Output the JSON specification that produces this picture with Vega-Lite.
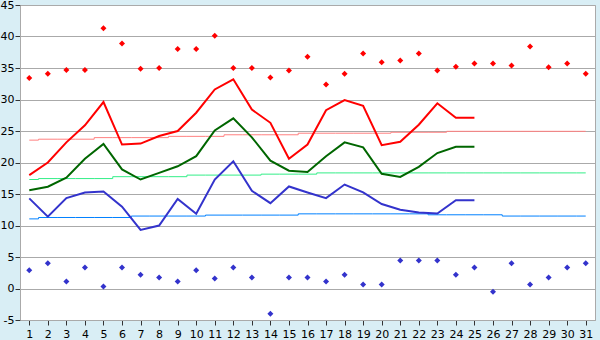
{
  "$schema": "https://vega.github.io/schema/vega-lite/v6.json",
  "width": 575,
  "height": 315,
  "autosize": {"type": "none"},
  "padding": {"left": 20, "top": 5, "right": 5, "bottom": 20},
  "background": "#d9eef5",
  "view": {"fill": "#ffffff", "stroke": "#aaaaaa", "strokeWidth": 1},
  "config": {
    "axis": {
      "labelFont": "DejaVu Sans",
      "labelFontSize": 11,
      "labelColor": "#000000",
      "tickColor": "#333333",
      "tickSize": 5,
      "domainColor": "#aaaaaa",
      "gridColor": "#aaaaaa",
      "gridOpacity": 1,
      "labelOverlap": false,
      "title": null
    }
  },
  "data": {
    "values": [
      {"day": 1, "max": 18.0, "mean": 15.6, "min": 14.3, "nmax": 23.55, "nmean": 17.3, "nmin": 11.05, "rhi": 33.4, "rlo": 2.9},
      {"day": 2, "max": 20.0, "mean": 16.15, "min": 11.4, "nmax": 23.7, "nmean": 17.45, "nmin": 11.27, "rhi": 34.1, "rlo": 4.0},
      {"day": 3, "max": 23.2, "mean": 17.6, "min": 14.35, "nmax": 23.7, "nmean": 17.45, "nmin": 11.27, "rhi": 34.7, "rlo": 1.1},
      {"day": 4, "max": 25.9, "mean": 20.6, "min": 15.25, "nmax": 23.7, "nmean": 17.45, "nmin": 11.27, "rhi": 34.7, "rlo": 3.35},
      {"day": 5, "max": 29.6, "mean": 22.95, "min": 15.4, "nmax": 23.95, "nmean": 17.45, "nmin": 11.27, "rhi": 41.3, "rlo": 0.3},
      {"day": 6, "max": 22.85, "mean": 18.9, "min": 13.0, "nmax": 23.95, "nmean": 17.75, "nmin": 11.27, "rhi": 38.9, "rlo": 3.35},
      {"day": 7, "max": 23.0, "mean": 17.3, "min": 9.3, "nmax": 23.95, "nmean": 17.75, "nmin": 11.5, "rhi": 34.9, "rlo": 2.2},
      {"day": 8, "max": 24.2, "mean": 18.35, "min": 10.0, "nmax": 23.95, "nmean": 17.75, "nmin": 11.5, "rhi": 35.0, "rlo": 1.75},
      {"day": 9, "max": 25.0, "mean": 19.4, "min": 14.2, "nmax": 24.15, "nmean": 17.75, "nmin": 11.5, "rhi": 38.0, "rlo": 1.1},
      {"day": 10, "max": 27.9, "mean": 21.0, "min": 11.85, "nmax": 24.15, "nmean": 18.0, "nmin": 11.5, "rhi": 38.0, "rlo": 2.9},
      {"day": 11, "max": 31.6, "mean": 25.1, "min": 17.3, "nmax": 24.15, "nmean": 18.0, "nmin": 11.65, "rhi": 40.1, "rlo": 1.6},
      {"day": 12, "max": 33.2, "mean": 27.0, "min": 20.2, "nmax": 24.4, "nmean": 18.0, "nmin": 11.65, "rhi": 35.0, "rlo": 3.35},
      {"day": 13, "max": 28.4, "mean": 24.0, "min": 15.5, "nmax": 24.4, "nmean": 18.0, "nmin": 11.65, "rhi": 35.0, "rlo": 1.75},
      {"day": 14, "max": 26.3, "mean": 20.3, "min": 13.55, "nmax": 24.4, "nmean": 18.15, "nmin": 11.65, "rhi": 33.5, "rlo": -4.0},
      {"day": 15, "max": 20.6, "mean": 18.7, "min": 16.2, "nmax": 24.4, "nmean": 18.15, "nmin": 11.65, "rhi": 34.6, "rlo": 1.75},
      {"day": 16, "max": 22.85, "mean": 18.5, "min": 15.25, "nmax": 24.65, "nmean": 18.15, "nmin": 11.85, "rhi": 36.8, "rlo": 1.75},
      {"day": 17, "max": 28.3, "mean": 21.0, "min": 14.35, "nmax": 24.65, "nmean": 18.35, "nmin": 11.85, "rhi": 32.4, "rlo": 1.1},
      {"day": 18, "max": 29.9, "mean": 23.2, "min": 16.5, "nmax": 24.65, "nmean": 18.35, "nmin": 11.85, "rhi": 34.1, "rlo": 2.2},
      {"day": 19, "max": 29.0, "mean": 22.4, "min": 15.25, "nmax": 24.65, "nmean": 18.35, "nmin": 11.85, "rhi": 37.3, "rlo": 0.65},
      {"day": 20, "max": 22.75, "mean": 18.2, "min": 13.4, "nmax": 24.65, "nmean": 18.35, "nmin": 11.85, "rhi": 35.9, "rlo": 0.65},
      {"day": 21, "max": 23.3, "mean": 17.7, "min": 12.5, "nmax": 24.8, "nmean": 18.35, "nmin": 11.85, "rhi": 36.2, "rlo": 4.45},
      {"day": 22, "max": 26.0, "mean": 19.3, "min": 12.05, "nmax": 24.8, "nmean": 18.35, "nmin": 11.85, "rhi": 37.3, "rlo": 4.45},
      {"day": 23, "max": 29.4, "mean": 21.5, "min": 11.9, "nmax": 24.8, "nmean": 18.35, "nmin": 11.7, "rhi": 34.6, "rlo": 4.45},
      {"day": 24, "max": 27.1, "mean": 22.5, "min": 14.0, "nmax": 24.95, "nmean": 18.35, "nmin": 11.7, "rhi": 35.2, "rlo": 2.2},
      {"day": 25, "max": 27.1, "mean": 22.5, "min": 14.0, "nmax": 24.95, "nmean": 18.35, "nmin": 11.7, "rhi": 35.7, "rlo": 3.35},
      {"day": 26, "max": null, "mean": null, "min": null, "nmax": 24.95, "nmean": 18.35, "nmin": 11.7, "rhi": 35.7, "rlo": -0.5},
      {"day": 27, "max": null, "mean": null, "min": null, "nmax": 24.95, "nmean": 18.35, "nmin": 11.5, "rhi": 35.4, "rlo": 4.0},
      {"day": 28, "max": null, "mean": null, "min": null, "nmax": 24.95, "nmean": 18.35, "nmin": 11.5, "rhi": 38.4, "rlo": 0.65},
      {"day": 29, "max": null, "mean": null, "min": null, "nmax": 24.95, "nmean": 18.35, "nmin": 11.5, "rhi": 35.1, "rlo": 1.75},
      {"day": 30, "max": null, "mean": null, "min": null, "nmax": 24.95, "nmean": 18.35, "nmin": 11.5, "rhi": 35.7, "rlo": 3.35},
      {"day": 31, "max": null, "mean": null, "min": null, "nmax": 24.95, "nmean": 18.35, "nmin": 11.5, "rhi": 34.1, "rlo": 4.0}
    ]
  },
  "encoding": {
    "x": {
      "field": "day",
      "type": "quantitative",
      "scale": {"domain": [0.5, 31.5], "nice": false, "zero": false},
      "axis": {
        "values": [1,2,3,4,5,6,7,8,9,10,11,12,13,14,15,16,17,18,19,20,21,22,23,24,25,26,27,28,29,30,31],
        "grid": false,
        "labelPadding": 3,
        "labelFlush": false,
        "labelOverlap": false,
        "title": null
      }
    },
    "y": {
      "field": "v",
      "type": "quantitative",
      "scale": {"domain": [-5, 45], "nice": false, "zero": false},
      "axis": {
        "values": [-5,0,5,10,15,20,25,30,35,40,45],
        "grid": true,
        "labelPadding": 1,
        "labelOverlap": false,
        "labelFlush": false,
        "labelExpr": "replace(datum.label, '\u2212', '-')",
        "title": null
      }
    }
  },
  "layer": [
    {
      "transform": [{"fold": ["nmax"], "as": ["k", "v"]}],
      "mark": {"type": "line", "interpolate": "step", "color": "#ff8080", "strokeWidth": 1}
    },
    {
      "transform": [{"fold": ["nmean"], "as": ["k", "v"]}],
      "mark": {"type": "line", "interpolate": "step", "color": "#33ee88", "strokeWidth": 1}
    },
    {
      "transform": [{"fold": ["nmin"], "as": ["k", "v"]}],
      "mark": {"type": "line", "interpolate": "step", "color": "#0080ff", "strokeWidth": 1}
    },
    {
      "transform": [{"fold": ["max"], "as": ["k", "v"]}],
      "mark": {"type": "line", "color": "#ff0000", "strokeWidth": 2}
    },
    {
      "transform": [{"fold": ["mean"], "as": ["k", "v"]}],
      "mark": {"type": "line", "color": "#006600", "strokeWidth": 2}
    },
    {
      "transform": [{"fold": ["min"], "as": ["k", "v"]}],
      "mark": {"type": "line", "color": "#3333cc", "strokeWidth": 2}
    },
    {
      "transform": [{"fold": ["rhi"], "as": ["k", "v"]}],
      "mark": {"type": "point", "shape": "diamond", "filled": true, "color": "#ff0000", "size": 36, "opacity": 1}
    },
    {
      "transform": [{"fold": ["rlo"], "as": ["k", "v"]}],
      "mark": {"type": "point", "shape": "diamond", "filled": true, "color": "#3333cc", "size": 36, "opacity": 1}
    }
  ]
}
